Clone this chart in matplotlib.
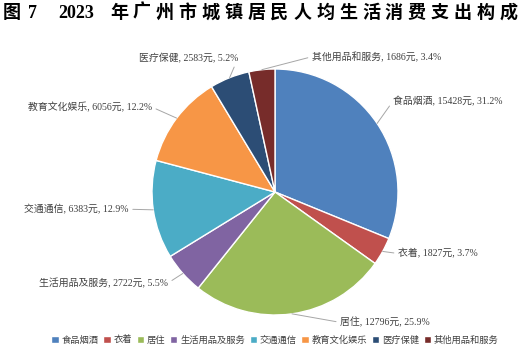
import numpy as np
import matplotlib
matplotlib.use("Agg")
import matplotlib.pyplot as plt

plt.rcParams['font.family'] = ['Liberation Serif', 'Noto Sans CJK SC', 'DejaVu Sans']

categories = ['食品烟酒', '衣着', '居住', '生活用品及服务', '交通通信', '教育文化娱乐', '医疗保健', '其他用品和服务']
values = [15428, 1827, 12796, 2722, 6383, 6056, 2583, 1686]
colors = ['#4F81BD', '#C0504D', '#9BBB59', '#8064A2', '#4BACC6', '#F79646', '#2C4D75', '#772C2A']

# label placement (pie radius = 1), horizontal alignment
label_pos = [(0.96, 0.74), (1.0, -0.50), (0.53, -1.06), (-0.87, -0.74),
             (-1.19, -0.14), (-1.0, 0.69), (-0.30, 1.09), (0.30, 1.10)]
label_ha = ['left', 'left', 'left', 'right', 'right', 'right', 'right', 'left']

fig = plt.figure(figsize=(5.23, 3.56), dpi=100)
ax = fig.add_axes([0, 0, 1, 1])

wedges, _ = ax.pie(values, colors=colors, startangle=90, counterclock=False,
                   wedgeprops=dict(edgecolor='white', linewidth=1.0))

total = sum(values)
for w, cat, v, pos, ha in zip(wedges, categories, values, label_pos, label_ha):
    ang = np.deg2rad((w.theta1 + w.theta2) / 2)
    xy = (np.cos(ang), np.sin(ang))
    txt = f'{cat}, {v}元, {v / total * 100:.1f}%'
    ax.annotate(txt, xy=xy, xytext=pos, ha=ha, va='center', fontsize=7.1,
                color='#404040',
                arrowprops=dict(arrowstyle='-', color='#A6A6A6', lw=0.7,
                                shrinkA=1, shrinkB=0,
                                relpos=(0, 0.5) if ha == 'left' else (1, 0.5)))

ax.set_xlim(-275 / 123, 248 / 123)
ax.set_ylim(-164 / 123, 192 / 123)
ax.set_aspect('auto')
ax.axis('off')

# title, drawn character by character to mimic the wide spacing
title_chars = list('年广州市城镇居民人均生活消费支出构成')
tkw = dict(fontsize=13, fontweight='bold', va='center', ha='left', color='black')
fig.text(3 / 523, 1 - 13 / 356, '图', **tkw)
fig.text(28 / 523, 1 - 13 / 356, '7', **tkw)
fig.text(58 / 523, 1 - 13 / 356, '2023', **tkw)
for i, ch in enumerate(title_chars):
    fig.text((110 + i * 22.9) / 523, 1 - 13 / 356, ch, **tkw)

ax.legend(wedges, categories, loc='center', bbox_to_anchor=(275 / 523, 16 / 356),
          bbox_transform=fig.transFigure, ncol=8, frameon=False, fontsize=6.7,
          handlelength=0.8, handleheight=0.8, handletextpad=0.3, columnspacing=0.5,
          borderpad=0, labelcolor='#404040')

fig.savefig('out.png', dpi=100)
